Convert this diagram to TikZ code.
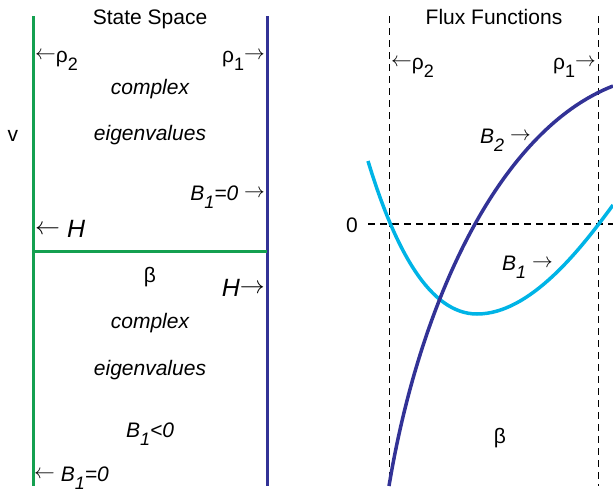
\documentclass[tikz,border=0pt]{standalone}
\usepackage{fontspec}
\setmainfont{Liberation Sans}
\definecolor{ssgreen}{RGB}{20,160,80}
\definecolor{ssblue}{RGB}{50,50,150}
\definecolor{sscyan}{RGB}{0,180,230}
\newcommand\mysub[1]{\raisebox{-0.42em}{\fontsize{18}{18}\selectfont #1}}
\newcommand\myla{\raisebox{0.1em}{$\leftarrow$}}
\newcommand\myra{\raisebox{0.1em}{$\rightarrow$}}
\begin{document}
\begin{tikzpicture}[x=1pt,y=-1pt,
  lbl/.style={inner sep=0pt, font=\fontsize{21}{21}\selectfont},
  bigl/.style={inner sep=0pt, font=\fontsize{25}{25}\selectfont},
  gline/.style={draw=ssgreen, line width=3pt},
  bline/.style={draw=ssblue, line width=3pt},
  dline/.style={draw=black, line width=1pt, dash pattern=on 7pt off 5pt},
  hdline/.style={draw=black, line width=2pt, dash pattern=on 7pt off 5pt},
  curveA/.style={draw=sscyan, line width=3.5pt},
  curveB/.style={draw=ssblue, line width=3.5pt}]
\useasboundingbox (0,0) rectangle (613,496);
% left panel
\coordinate (gt) at (33,16);
\coordinate (gb) at (33,486);
\coordinate (bt) at (267,16);
\coordinate (bb) at (267,486);
\coordinate (gm) at (33,251);
\coordinate (bm) at (267,251);
\draw[gline] (gt) -- (gb);
\draw[bline] (bt) -- (bb);
\draw[gline] (gm) -- (bm);
\node[lbl, anchor=base] (t1) at (150,24) {State Space};
\node[lbl, anchor=base west] (r2a) at (35,62) {\myla ρ\mysub{2}};
\node[lbl, anchor=base east] (r1a) at (265,62) {ρ\mysub{1}\myra};
\node[lbl, anchor=base] (c1) at (150,94) {\itshape complex};
\node[lbl, anchor=base] (e1) at (150,140) {\itshape eigenvalues};
\node[lbl, anchor=base] (v) at (13,141) {v};
\node[lbl, anchor=base east] (b10) at (265,200) {\textit{B\mysub{1}=0} \myra};
\node[bigl, anchor=base west] (hl) at (35,237) {\myla{} \textit{H}};
\node[lbl, anchor=base] (beta1) at (150,282) {β};
\node[bigl, anchor=base east] (hr) at (265,296) {\textit{H}\myra};
\node[lbl, anchor=base] (c2) at (150,328) {\itshape complex};
\node[lbl, anchor=base] (e2) at (150,375) {\itshape eigenvalues};
\node[lbl, anchor=base] (b1l) at (150,437) {\textit{B\mysub{1}<0}};
\node[lbl, anchor=base west] (b10b) at (34,481) {\myla{} \textit{B\mysub{1}=0}};
% right panel
\coordinate (d1t) at (389,16);
\coordinate (d1b) at (389,486);
\coordinate (d2t) at (598,16);
\coordinate (d2b) at (598,486);
\coordinate (h0l) at (368,224);
\coordinate (h0r) at (613,224);
\draw[dline] (d1t) -- (d1b);
\draw[dline] (d2t) -- (d2b);
\draw[hdline] (h0l) -- (h0r);
\node[lbl, anchor=base] (t2) at (494,24) {Flux Functions};
\node[lbl, anchor=base] (zero) at (352,232) {0};
\node[lbl, anchor=base west] (r2b) at (391,69) {\myla ρ\mysub{2}};
\node[lbl, anchor=base east] (r1b) at (596,69) {ρ\mysub{1}\myra};
\coordinate (a0) at (368,161);
\coordinate (amin) at (477,314);
\coordinate (a1) at (613,205);
\draw[curveA] (a0) .. controls (395,250) and (430,314) .. (amin)
  .. controls (530,314) and (580,250) .. (a1);
\coordinate (p0) at (389,486);
\coordinate (p1) at (613,86);
\draw[curveB] (p0) .. controls (420,300) and (500,130) .. (p1);
\node[lbl, anchor=base west] (b2) at (480,143) {\textit{B\mysub{2}} \myra};
\node[lbl, anchor=base west] (b1) at (502,270) {\textit{B\mysub{1}} \myra};
\node[lbl, anchor=base] (beta2) at (500,443) {β};
\end{tikzpicture}
\end{document}
